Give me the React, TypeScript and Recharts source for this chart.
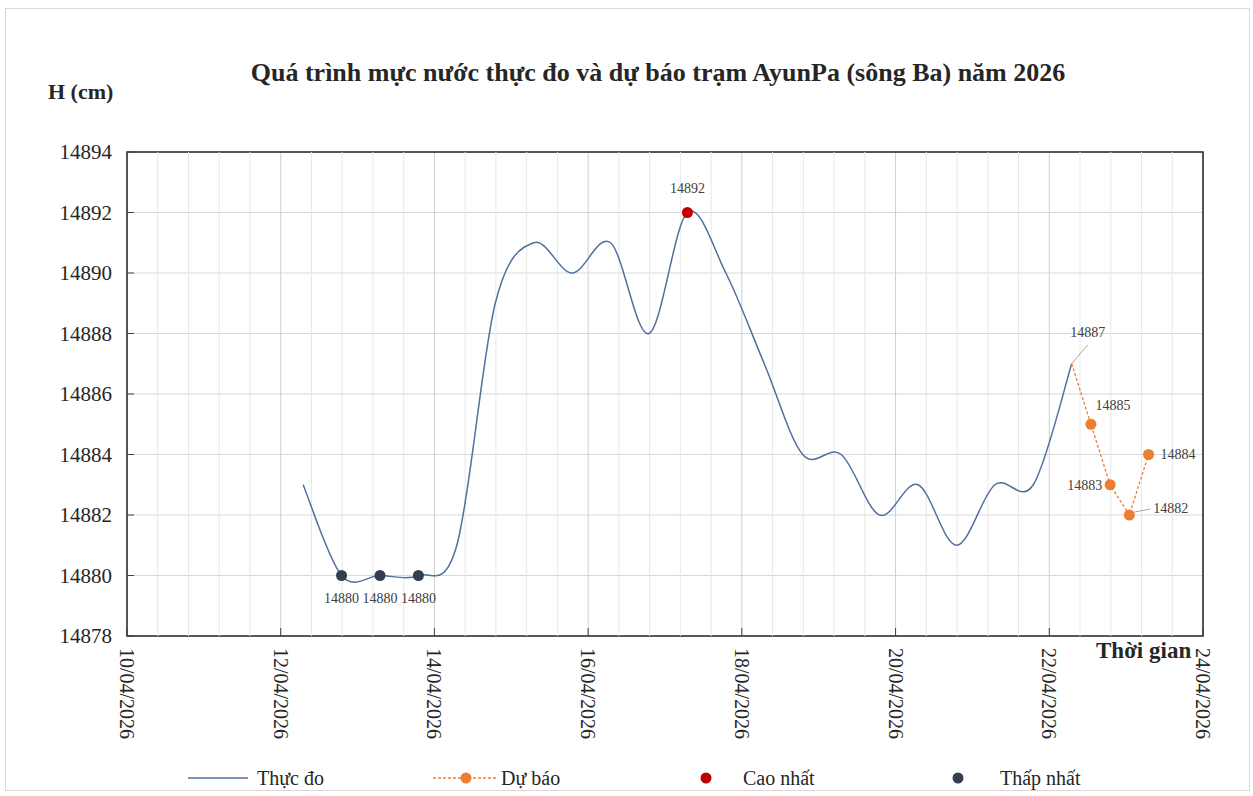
import React from 'react';
import {
  ComposedChart,
  Line,
  XAxis,
  YAxis,
  CartesianGrid,
  ReferenceLine,
  ReferenceArea,
  LabelList,
} from 'recharts';

// Mực nước thực đo (giờ 7h và 19h)
const observedTimes = [
  '2026-04-12T07:00', '2026-04-12T19:00', '2026-04-13T07:00', '2026-04-13T19:00',
  '2026-04-14T07:00', '2026-04-14T19:00', '2026-04-15T07:00', '2026-04-15T19:00',
  '2026-04-16T07:00', '2026-04-16T19:00', '2026-04-17T07:00', '2026-04-17T19:00',
  '2026-04-18T07:00', '2026-04-18T19:00', '2026-04-19T07:00', '2026-04-19T19:00',
  '2026-04-20T07:00', '2026-04-20T19:00', '2026-04-21T07:00', '2026-04-21T19:00',
  '2026-04-22T07:00',
];
const observedLevels = [
  14883, 14880, 14880, 14880, 14881, 14889, 14891, 14890, 14891, 14888, 14892,
  14890, 14887, 14884, 14884, 14882, 14883, 14881, 14883, 14883, 14887,
];

// Mực nước dự báo (6 giờ một lần)
const forecastTimes = [
  '2026-04-22T07:00', '2026-04-22T13:00', '2026-04-22T19:00', '2026-04-23T01:00', '2026-04-23T07:00',
];
const forecastLevels = [14887, 14885, 14883, 14882, 14884];

const xTickDates = [
  '2026-04-10T00:00', '2026-04-12T00:00', '2026-04-14T00:00', '2026-04-16T00:00',
  '2026-04-18T00:00', '2026-04-20T00:00', '2026-04-22T00:00', '2026-04-24T00:00',
];
const xTickLabels = [
  '10/04/2026', '12/04/2026', '14/04/2026', '16/04/2026',
  '18/04/2026', '20/04/2026', '22/04/2026', '24/04/2026',
];
const yTicks = [14878, 14880, 14882, 14884, 14886, 14888, 14890, 14892, 14894];

const FONT = '"Liberation Serif", "Times New Roman", serif';
const ORIGIN = Date.parse('2026-04-10T00:00Z');
const toDay = (s: string) => (Date.parse(s + 'Z') - ORIGIN) / 86400000;

const xTicks = xTickDates.map(toDay);
const minorTicks = Array.from({ length: 35 }, (_, i) => (i * 2) / 5).filter((v) => Math.abs(v / 2 - Math.round(v / 2)) > 0.01);

const observed = observedTimes.map((s, i) => ({ t: toDay(s), v: observedLevels[i] }));
const forecast = forecastTimes.map((s, i) => ({ t: toDay(s), v: forecastLevels[i] }));
const maxLevel = Math.max(...observedLevels);
const minLevel = Math.min(...observedLevels);
const highest = observed.filter((d) => d.v === maxLevel);
const lowest = observed.filter((d) => d.v === minLevel);

// Excel-like smoothed line (Catmull-Rom bezier)
function excelSmooth(context: any) {
  let pts: number[][] = [];
  return {
    areaStart() {},
    areaEnd() {},
    lineStart() {
      pts = [];
    },
    lineEnd() {
      const n = pts.length;
      if (!n) return;
      context.moveTo(pts[0][0], pts[0][1]);
      const k = 1 / 6;
      for (let i = 0; i < n - 1; i++) {
        const p0 = pts[i - 1] || pts[i];
        const p1 = pts[i];
        const p2 = pts[i + 1];
        const p3 = pts[i + 2] || p2;
        context.bezierCurveTo(
          p1[0] + (p2[0] - p0[0]) * k,
          p1[1] + (p2[1] - p0[1]) * k,
          p2[0] - (p3[0] - p1[0]) * k,
          p2[1] - (p3[1] - p1[1]) * k,
          p2[0],
          p2[1],
        );
      }
    },
    point(x: number, y: number) {
      pts.push([+x, +y]);
    },
  };
}

const YTick = ({ x, y, payload }: any) => (
  <g>
    <line x1={x + 15} x2={x + 22} y1={y} y2={y} stroke="#404040" />
    <text x={x} y={y} textAnchor="end" dominantBaseline="central" fontFamily={FONT} fontSize={21} fill="#262626">
      {payload.value}
    </text>
  </g>
);

const XTick = ({ x, y, payload }: any) => {
  const idx = xTicks.findIndex((v) => Math.abs(v - payload.value) < 1e-6);
  return (
    <g>
      <line x1={x} x2={x} y1={y - 12} y2={y - 20} stroke="#404040" />
      <text
        transform={`translate(${x},${y}) rotate(90)`}
        textAnchor="start"
        dominantBaseline="central"
        fontFamily={FONT}
        fontSize={20}
        fill="#262626"
      >
        {xTickLabels[idx] ?? ''}
      </text>
    </g>
  );
};

const labelStyle = { fontFamily: FONT, fontSize: 14, fill: '#404040' };

const MaxLabel = (p: any) => (
  <text x={p.x} y={p.y - 20} textAnchor="middle" {...labelStyle}>{p.value}</text>
);
const MinLabel = (p: any) => (
  <text x={p.x} y={p.y + 27} textAnchor="middle" {...labelStyle}>{p.value}</text>
);

// placement of the forecast labels: [dx, dy, anchor, leader]
const forecastLabelPlacement: [number, number, string, number[] | null][] = [
  [16, -27, 'middle', [0, 0, 16, -19]],
  [22, -14, 'middle', null],
  [-8, 5, 'end', null],
  [24, -2, 'start', [5, -3, 21, -6]],
  [12, 4, 'start', null],
];

const ForecastLabel = (p: any) => {
  const pl = forecastLabelPlacement[p.index];
  if (!pl) return null;
  const [dx, dy, anchor, leader] = pl;
  return (
    <g>
      {leader && (
        <line x1={p.x + leader[0]} y1={p.y + leader[1]} x2={p.x + leader[2]} y2={p.y + leader[3]} stroke="#a6a6a6" />
      )}
      <text x={p.x + dx} y={p.y + dy} textAnchor={anchor as any} {...labelStyle}>{p.value}</text>
    </g>
  );
};

const dotOf = (color: string, skipFirst = false) => (p: any) => {
  if (skipFirst && p.index === 0) return <g key={`d${p.index}`} />;
  return <circle key={`d${p.index}`} cx={p.cx} cy={p.cy} r={5.5} fill={color} stroke="none" />;
};

const legendText = { fontFamily: FONT, fontSize: 20, fill: '#262626' };

export default function App() {
  return (
    <div style={{ position: 'relative', width: 1253, height: 796, background: '#fff' }}>
      <style>{'body{margin:0}'}</style>
      <ComposedChart width={1253} height={796} margin={{ top: 152, right: 50, left: 50, bottom: 50 }}>
        <CartesianGrid vertical={false} stroke="#d9d9d9" />
        {minorTicks.map((v) => (
          <ReferenceLine key={v} x={v} stroke="#e8e8e8" strokeWidth={1} />
        ))}
        <CartesianGrid horizontal={false} stroke="#cfcfcf" />
        <XAxis
          type="number"
          dataKey="t"
          domain={[0, 14]}
          ticks={xTicks}
          allowDataOverflow
          axisLine={false}
          tickLine={false}
          tickSize={0}
          tickMargin={12}
          height={110}
          tick={<XTick />}
          interval={0}
        />
        <YAxis
          type="number"
          domain={[14878, 14894]}
          ticks={yTicks}
          axisLine={false}
          tickLine={false}
          tickSize={0}
          tickMargin={15}
          width={77}
          tick={<YTick />}
          interval={0}
        />
        <ReferenceArea x1={0} x2={14} y1={14878} y2={14894} fill="none" stroke="#262626" strokeWidth={1.5} />
        <Line
          data={observed}
          dataKey="v"
          type={excelSmooth as any}
          stroke="#50709e"
          strokeWidth={1.5}
          dot={false}
          activeDot={false}
          isAnimationActive={false}
        />
        <Line
          data={forecast}
          dataKey="v"
          type="linear"
          stroke="#ed7d31"
          strokeWidth={1.3}
          strokeDasharray="3 2"
          dot={dotOf('#ed7d31', true)}
          activeDot={false}
          isAnimationActive={false}
        >
          <LabelList dataKey="v" content={<ForecastLabel />} />
        </Line>
        <Line
          data={highest}
          dataKey="v"
          stroke="none"
          dot={dotOf('#c00000')}
          activeDot={false}
          isAnimationActive={false}
        >
          <LabelList dataKey="v" content={<MaxLabel />} />
        </Line>
        <Line
          data={lowest}
          dataKey="v"
          stroke="none"
          dot={dotOf('#333f50')}
          activeDot={false}
          isAnimationActive={false}
        >
          <LabelList dataKey="v" content={<MinLabel />} />
        </Line>
      </ComposedChart>
      <svg width={1253} height={796} style={{ position: 'absolute', left: 0, top: 0, pointerEvents: 'none' }}>
        <rect x={5.5} y={8.5} width={1244} height={782} fill="none" stroke="#d9d9d9" />
        <text x={658} y={81} textAnchor="middle" fontFamily={FONT} fontSize={26} fontWeight="bold" fill="#262626">
          Quá trình mực nước thực đo và dự báo trạm AyunPa (sông Ba) năm 2026
        </text>
        <text x={48} y={99} fontFamily={FONT} fontSize={22} fontWeight="bold" fill="#262626">H (cm)</text>
        <text x={1096} y={658} fontFamily={FONT} fontSize={23} fontWeight="bold" fill="#262626">Thời gian</text>
        <line x1={188} x2={248} y1={778} y2={778} stroke="#50709e" strokeWidth={1.5} />
        <text x={257} y={778} dominantBaseline="central" {...legendText}>Thực đo</text>
        <line x1={433} x2={497} y1={778} y2={778} stroke="#ed7d31" strokeWidth={1.3} strokeDasharray="3 2" />
        <circle cx={466} cy={778} r={5.5} fill="#ed7d31" />
        <text x={501} y={778} dominantBaseline="central" {...legendText}>Dự báo</text>
        <circle cx={706} cy={778} r={5.5} fill="#c00000" />
        <text x={743} y={778} dominantBaseline="central" {...legendText}>Cao nhất</text>
        <circle cx={958} cy={778} r={5.5} fill="#333f50" />
        <text x={1000} y={778} dominantBaseline="central" {...legendText}>Thấp nhất</text>
      </svg>
    </div>
  );
}
